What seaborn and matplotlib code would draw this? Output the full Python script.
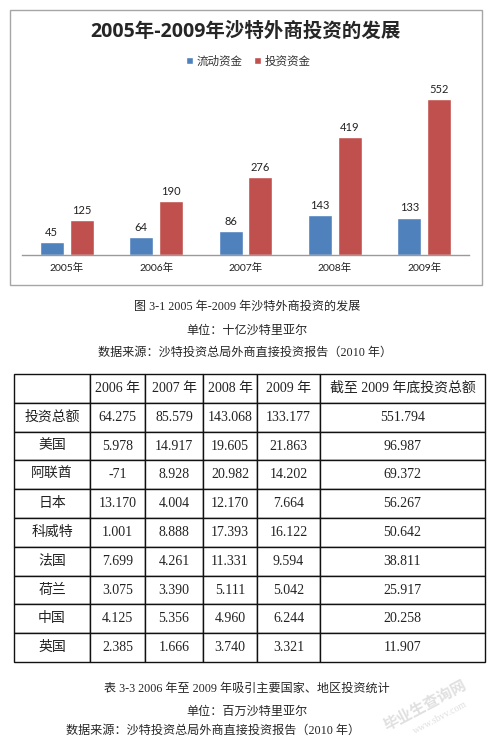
import matplotlib
matplotlib.use("Agg")
import matplotlib.pyplot as plt
import seaborn as sns
import pandas as pd
from matplotlib.patches import Rectangle

# chart data (十亿沙特里亚尔)
years = ['2005年', '2006年', '2007年', '2008年', '2009年']
liquid = [45, 64, 86, 143, 133]
invest = [125, 190, 276, 419, 552]
series = ['流动资金', '投资资金']

# table data (百万沙特里亚尔)
col_labels = ['', '2006 年', '2007 年', '2008 年', '2009 年', '截至 2009 年底投资总额']
countries = ['投资总额', '美国', '阿联酋', '日本', '科威特', '法国', '荷兰', '中国', '英国']
v2006 = ['64.275', '5.978', '-71', '13.170', '1.001', '7.699', '3.075', '4.125', '2.385']
v2007 = ['85.579', '14.917', '8.928', '4.004', '8.888', '4.261', '3.390', '5.356', '1.666']
v2008 = ['143.068', '19.605', '20.982', '12.170', '17.393', '11.331', '5.111', '4.960', '3.740']
v2009 = ['133.177', '21.863', '14.202', '7.664', '16.122', '9.594', '5.042', '6.244', '3.321']
total = ['551.794', '96.987', '69.372', '56.267', '50.642', '38.811', '25.917', '20.258', '11.907']

sns.set_style("white")
plt.rcParams['font.family'] = ['Lato', 'Noto Sans CJK SC', 'DejaVu Sans']
SERIF = ['Liberation Serif', 'Noto Sans CJK SC']
SANS = ['Noto Sans CJK SC', 'DejaVu Sans']

W, H = 493, 744
fig = plt.figure(figsize=(W / 100, H / 100), dpi=100)


def fx(x):
    return x / W


def fy(y):
    return 1 - y / H


# chart frame
fig.patches.append(Rectangle((fx(10), fy(285)), 472 / W, 275 / H, transform=fig.transFigure,
                             fill=False, ec='#a6a6a6', lw=1.0))

df = pd.DataFrame({
    'year': years * 2,
    'series': [series[0]] * 5 + [series[1]] * 5,
    'value': liquid + invest,
})

ax = fig.add_axes([fx(22), fy(255), 447 / W, 175 / H])
sns.barplot(data=df, x='year', y='value', hue='series', hue_order=series,
            palette=['#4f81bd', '#c0504d'], width=0.67, gap=0.2, ax=ax,
            saturation=1, legend=True)
ax.set_xlim(-0.5, 4.5)
ax.set_ylim(0, 621)
ax.set_xlabel('')
ax.set_ylabel('')
ax.set_yticks([])
for s in ['top', 'left', 'right']:
    ax.spines[s].set_visible(False)
ax.spines['bottom'].set_color('#9a9a9a')
ax.spines['bottom'].set_linewidth(1.0)
ax.tick_params(axis='x', length=0, pad=6)
for lbl in ax.get_xticklabels():
    lbl.set_fontsize(7.5)
    lbl.set_color('#222222')
for cont in ax.containers:
    ax.bar_label(cont, padding=3, fontsize=8, color='#222222')

leg = ax.legend(loc='center', bbox_to_anchor=(fx(248), fy(61)), bbox_transform=fig.transFigure,
                ncol=2, frameon=False, handlelength=0.6, handleheight=0.6,
                handletextpad=0.3, columnspacing=1.0, prop={'family': SANS, 'size': 8.3})
for t in leg.get_texts():
    t.set_color('#333333')

fig.text(fx(245), fy(32), '2005年-2009年沙特外商投资的发展', ha='center', va='center',
         fontsize=14, fontweight='bold', family=['Open Sans', 'Noto Sans CJK SC'])

# captions
cap_font = ['Liberation Serif', 'Noto Sans CJK SC']
fig.text(fx(247), fy(307), '图 3-1 2005 年-2009 年沙特外商投资的发展', ha='center', va='center',
         fontsize=8.7, family=cap_font)
fig.text(fx(247), fy(331), '单位：十亿沙特里亚尔', ha='center', va='center',
         fontsize=8.7, family=cap_font)
fig.text(fx(245), fy(353), '数据来源：沙特投资总局外商直接投资报告（2010 年）', ha='center',
         va='center', fontsize=8.7, family=cap_font)

# table
rows = [[c, a, b, d, e, t] for c, a, b, d, e, t in zip(countries, v2006, v2007, v2008, v2009, total)]
edges = [14, 90, 145, 203, 257, 320, 485]
widths = [edges[i + 1] - edges[i] for i in range(len(edges) - 1)]
tax = fig.add_axes([fx(14), fy(662), 471 / W, 288 / H])
tax.axis('off')
tbl = tax.table(cellText=rows, colLabels=col_labels, colWidths=[w / 471 for w in widths],
                cellLoc='center', bbox=[0, 0, 1, 1])
tbl.auto_set_font_size(False)
for (r, c), cell in tbl.get_celld().items():
    cell.set_edgecolor('#111111')
    cell.set_linewidth(1.0)
    txt = cell.get_text()
    txt.set_fontsize(10)
    txt.set_fontfamily(SERIF)
    txt.set_color('#222222')

fig.text(fx(247), fy(689), '表 3-3 2006 年至 2009 年吸引主要国家、地区投资统计', ha='center',
         va='center', fontsize=8.7, family=cap_font)
fig.text(fx(247), fy(712), '单位：百万沙特里亚尔', ha='center', va='center',
         fontsize=8.7, family=cap_font)
fig.text(fx(213), fy(731), '数据来源：沙特投资总局外商直接投资报告（2010 年）', ha='center',
         va='center', fontsize=8.7, family=cap_font)

# watermark
fig.text(fx(425), fy(705), '毕业生查询网', ha='center', va='center', rotation=28,
         fontsize=11, fontweight='bold', color='#e0e0e0', family=SANS)
fig.text(fx(440), fy(718), 'www.sbvv.com', ha='center', va='center', rotation=28,
         fontsize=7, color='#e0e0e0', family=SERIF)

fig.savefig('out.png', dpi=100)
